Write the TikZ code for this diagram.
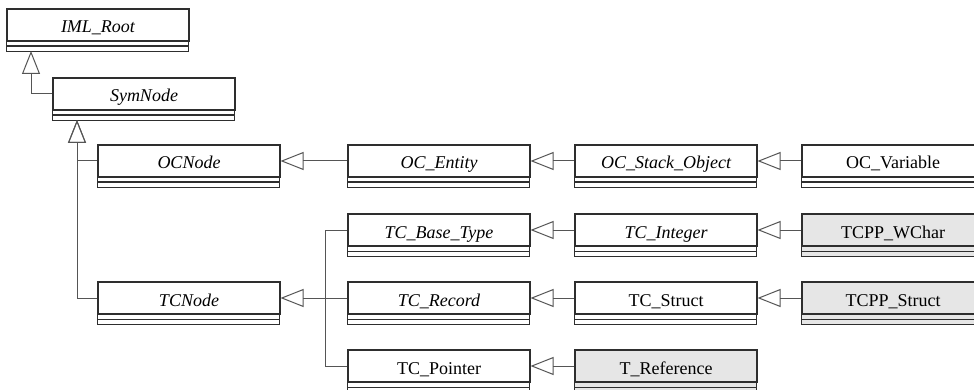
\documentclass[tikz,border=0pt]{standalone}
\usepackage{fontspec}
\setmainfont{Liberation Serif}
\usetikzlibrary{arrows.meta,calc}

\definecolor{boxline}{HTML}{2E2E2E}
\definecolor{connline}{HTML}{555555}
\definecolor{grayfill}{HTML}{E6E6E6}

% One UML class: name compartment plus two empty compartments below it.
% #1 node name, #2 left edge, #3 name centre y, #4 style, #5 label
\newcommand\umlbox[5]{%
  \node[namepart,#4] (#1) at (#2+91,#3-2) {#5};
  \draw[compline,#4] (#1.south west) rectangle ++(182,10);
  \draw[compline] (#1.south west) ++(0,4.5) -- ++(182,0);
  \coordinate (#1-in) at (#2+24,#3+24);
}

\begin{document}
\begin{tikzpicture}[x=1pt,y=-1pt,
  namepart/.style={draw=boxline, line width=1.1pt, fill=white,
    minimum width=182pt, minimum height=32pt, inner sep=0pt,
    text height=16pt, text depth=0pt,
    font=\fontsize{18}{20}\selectfont},
  compline/.style={draw=boxline, line width=1.1pt, fill=white},
  abstract/.style={font=\fontsize{18}{20}\selectfont\itshape},
  concrete/.style={},
  shaded/.style={fill=grayfill},
  conn/.style={draw=connline, line width=1pt},
  gen/.style={conn, -{Triangle[open, length=23pt, width=18pt, line width=1pt]}},
]
\useasboundingbox (0,0) rectangle (974,390);
\fill[white] (0,0) rectangle (974,390);
\clip (0,0) rectangle (974,390);

% classes
\umlbox{IMLRoot}{7}{27}{abstract}{IML\_Root}
\umlbox{SymNode}{53}{96}{abstract}{SymNode}
\umlbox{OCNode}{98}{163}{abstract}{OCNode}
\umlbox{OCEntity}{348}{163}{abstract}{OC\_Entity}
\umlbox{OCStack}{575}{163}{abstract}{OC\_Stack\_Object}
\umlbox{OCVariable}{802}{163}{concrete}{OC\_Variable}
\umlbox{TCNode}{98}{300}{abstract}{TCNode}
\umlbox{TCBaseType}{348}{232}{abstract}{TC\_Base\_Type}
\umlbox{TCInteger}{575}{232}{abstract}{TC\_Integer}
\umlbox{TCPPWChar}{802}{232}{shaded}{TCPP\_WChar}
\umlbox{TCRecord}{348}{300}{abstract}{TC\_Record}
\umlbox{TCStruct}{575}{300}{concrete}{TC\_Struct}
\umlbox{TCPPStruct}{802}{300}{shaded}{TCPP\_Struct}
\umlbox{TCPointer}{348}{368}{concrete}{TC\_Pointer}
\umlbox{TReference}{575}{368}{shaded}{T\_Reference}

% generalisations
\draw[gen] (SymNode.west) -| (IMLRoot-in);
\draw[gen] (TCNode.west) -| (SymNode-in);
\draw[gen] (OCNode.west) -| (SymNode-in);

\draw[gen] (OCEntity.west) -- (OCNode.east);
\draw[gen] (OCStack.west) -- (OCEntity.east);
\draw[gen] (OCVariable.west) -- (OCStack.east);

\coordinate (bus) at ($(TCNode.east)+(45,0)$);
\draw[gen] (TCRecord.west) -- (TCNode.east);
\draw[conn] (TCBaseType.west) -| (bus);
\draw[conn] (TCPointer.west) -| (bus);

\draw[gen] (TCInteger.west) -- (TCBaseType.east);
\draw[gen] (TCPPWChar.west) -- (TCInteger.east);
\draw[gen] (TCStruct.west) -- (TCRecord.east);
\draw[gen] (TCPPStruct.west) -- (TCStruct.east);
\draw[gen] (TReference.west) -- (TCPointer.east);
\end{tikzpicture}
\end{document}
